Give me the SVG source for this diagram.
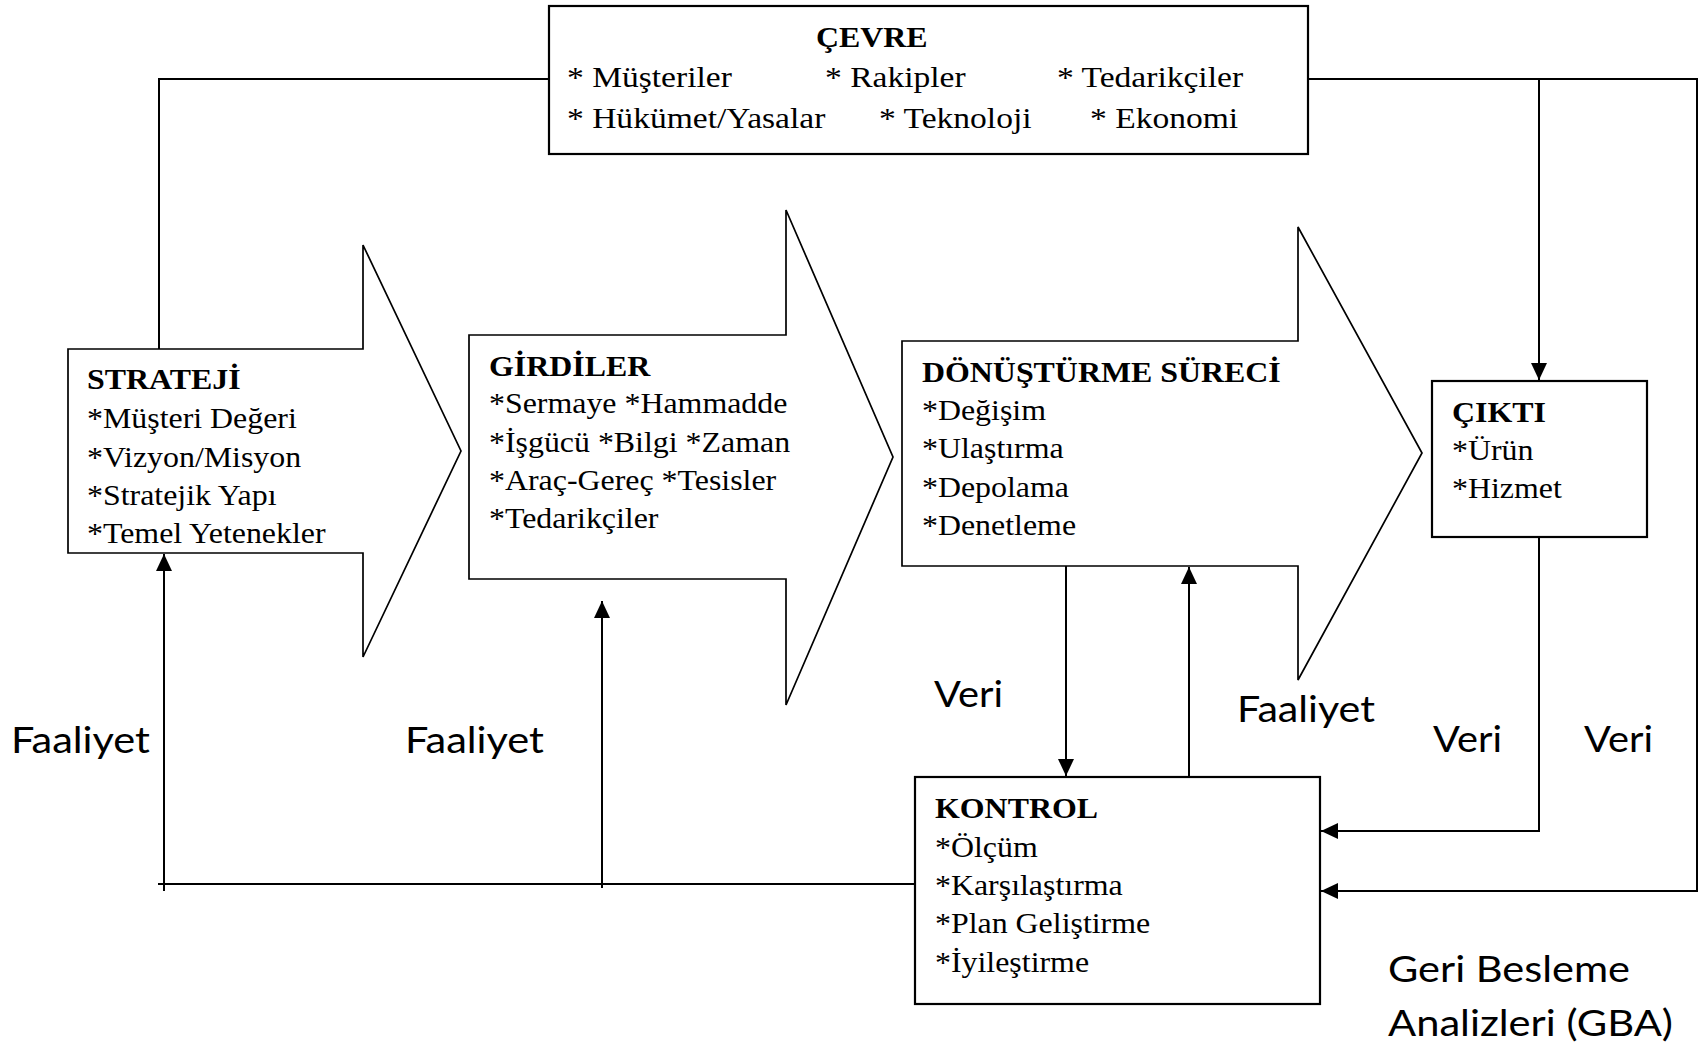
<svg xmlns="http://www.w3.org/2000/svg" width="1702" height="1045" viewBox="0 0 1702 1045">
<style>
  .box { fill: #fff; stroke: #000; stroke-width: 2.2; }
  .blk { fill: #fff; stroke: #000; stroke-width: 1.7; stroke-linejoin: miter; }
  .con { fill: none; stroke: #000; stroke-width: 2; }
  .t { font-family: "Liberation Serif", "Times New Roman", serif; font-size: 29px; fill: #000; }
  .tb { font-family: "Liberation Serif", "Times New Roman", serif; font-size: 29px; font-weight: bold; fill: #000; }
  .te { font-family: "Liberation Serif", "Times New Roman", serif; font-size: 30.5px; fill: #000; }
  .lb { font-family: Lato, "Open Sans", sans-serif; font-size: 37px; fill: #000; }
</style>
<defs>
  <marker id="ah" markerUnits="userSpaceOnUse" markerWidth="18" markerHeight="16" viewBox="0 0 18 16" refX="17" refY="8" orient="auto">
    <path d="M0,0 L17,8 L0,16 Z" fill="#000"/>
  </marker>
</defs>

<g id="connectors">
  <path class="con" d="M549,79 H159 V349"/>
  <path class="con" d="M1308,79 H1697 V891 H1321" marker-end="url(#ah)"/>
  <path class="con" d="M1539,79 V380" marker-end="url(#ah)"/>
  <path class="con" d="M1539,537 V831 H1321" marker-end="url(#ah)"/>
  <path class="con" d="M1066,566 V776" marker-end="url(#ah)"/>
  <path class="con" d="M1189,777 V567" marker-end="url(#ah)"/>
  <path class="con" d="M915,884 H158"/>
  <path class="con" d="M164,891 V554" marker-end="url(#ah)"/>
  <path class="con" d="M602,888 V601" marker-end="url(#ah)"/>
</g>

<g id="cevre">
  <rect class="box" x="549" y="6" width="759" height="148"/>
  <g transform="translate(816,0) scale(1.1,1)"><text class="tb" x="0" y="47">ÇEVRE</text></g>
  <g transform="translate(567,0) scale(1.1,1)">
    <text class="te" x="0" y="87">* Müşteriler</text>
    <text class="te" x="0" y="128">* Hükümet/Yasalar</text>
  </g>
  <g transform="translate(825,0) scale(1.1,1)"><text class="te" x="0" y="87">* Rakipler</text></g>
  <g transform="translate(1057,0) scale(1.1,1)"><text class="te" x="0" y="87">* Tedarikçiler</text></g>
  <g transform="translate(879,0) scale(1.1,1)"><text class="te" x="0" y="128">* Teknoloji</text></g>
  <g transform="translate(1090,0) scale(1.1,1)"><text class="te" x="0" y="128">* Ekonomi</text></g>
</g>

<g id="strateji">
  <polygon class="blk" points="68,349 363,349 363,245 461,451 363,657 363,553 68,553"/>
  <g transform="translate(87,0) scale(1.1,1)">
    <text class="tb" x="0" y="389">STRATEJİ</text>
    <text class="t" x="0" y="428">*Müşteri Değeri</text>
    <text class="t" x="0" y="467">*Vizyon/Misyon</text>
    <text class="t" x="0" y="505">*Stratejik Yapı</text>
    <text class="t" x="0" y="543">*Temel Yetenekler</text>
  </g>
</g>

<g id="girdiler">
  <polygon class="blk" points="469,335 786,335 786,210 893,457 786,705 786,579 469,579"/>
  <g transform="translate(489,0) scale(1.1,1)">
    <text class="tb" x="0" y="376">GİRDİLER</text>
    <text class="t" x="0" y="413">*Sermaye *Hammadde</text>
    <text class="t" x="0" y="452">*İşgücü *Bilgi *Zaman</text>
    <text class="t" x="0" y="490">*Araç-Gereç *Tesisler</text>
    <text class="t" x="0" y="528">*Tedarikçiler</text>
  </g>
</g>

<g id="donusturme">
  <polygon class="blk" points="902,341 1298,341 1298,227 1422,453 1298,680 1298,566 902,566"/>
  <g transform="translate(922,0) scale(1.1,1)">
    <text class="tb" x="0" y="382">DÖNÜŞTÜRME SÜRECİ</text>
    <text class="t" x="0" y="420">*Değişim</text>
    <text class="t" x="0" y="458">*Ulaştırma</text>
    <text class="t" x="0" y="497">*Depolama</text>
    <text class="t" x="0" y="535">*Denetleme</text>
  </g>
</g>

<g id="cikti">
  <rect class="box" x="1432" y="381" width="215" height="156"/>
  <g transform="translate(1452,0) scale(1.1,1)">
    <text class="tb" x="0" y="422">ÇIKTI</text>
    <text class="t" x="0" y="460">*Ürün</text>
    <text class="t" x="0" y="498">*Hizmet</text>
  </g>
</g>

<g id="kontrol">
  <rect class="box" x="915" y="777" width="405" height="227"/>
  <g transform="translate(935,0) scale(1.1,1)">
    <text class="tb" x="0" y="818">KONTROL</text>
    <text class="t" x="0" y="857">*Ölçüm</text>
    <text class="t" x="0" y="895">*Karşılaştırma</text>
    <text class="t" x="0" y="933">*Plan Geliştirme</text>
    <text class="t" x="0" y="972">*İyileştirme</text>
  </g>
</g>

<g id="labels">
  <text class="lb" x="11" y="753" textLength="139" lengthAdjust="spacingAndGlyphs">Faaliyet</text>
  <text class="lb" x="405" y="753" textLength="139" lengthAdjust="spacingAndGlyphs">Faaliyet</text>
  <text class="lb" x="934" y="707" textLength="69" lengthAdjust="spacingAndGlyphs">Veri</text>
  <text class="lb" x="1237" y="722" textLength="138" lengthAdjust="spacingAndGlyphs">Faaliyet</text>
  <text class="lb" x="1433" y="752" textLength="69" lengthAdjust="spacingAndGlyphs">Veri</text>
  <text class="lb" x="1584" y="752" textLength="69" lengthAdjust="spacingAndGlyphs">Veri</text>
  <text class="lb" x="1388" y="982" textLength="242" lengthAdjust="spacingAndGlyphs">Geri Besleme</text>
  <text class="lb" x="1388" y="1036" textLength="285" lengthAdjust="spacingAndGlyphs">Analizleri (GBA)</text>
</g>
</svg>
